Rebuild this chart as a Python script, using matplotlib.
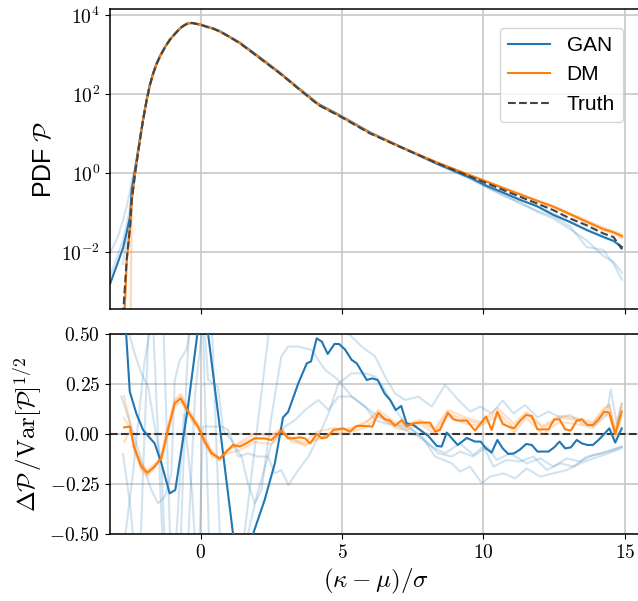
import numpy as np
import matplotlib
matplotlib.use('Agg')
import matplotlib.pyplot as plt
from matplotlib.ticker import FixedLocator, FixedFormatter, NullLocator

nan = np.nan

# ---- top panel: log10 of the PDF ----
x_top = [-3.2, -2.95, -2.75, -2.62, -2.5, -2.44, -2.32, -2.15, -2.03, -1.91, -1.8, -1.68,
         -1.56, -1.44, -1.25, -1.09, -0.9, -0.73, -0.6, -0.44, -0.3, -0.14, 0.0, 0.21,
         0.45, 0.68, 1.0, 1.39, 2.1, 2.8, 3.51, 4.16, 4.93, 5.99, 7.17,
         8.35, 9.53, 10.12, 10.7, 11.29, 11.89, 12.47, 13.06, 13.64, 14.24, 14.6, 14.9]
# shared body of the curve between x=-2.03 and x=1.0 (all models agree there)
truth_log = [nan, nan, -3.6, -2.2, -1.36, -0.68, 0.0, 0.84, 1.38, 1.85, 2.22, 2.52,
             2.76, 2.95, 3.2, 3.37, 3.53, 3.66, 3.73, 3.79, 3.795, 3.77, 3.75, 3.70,
             3.65, 3.58, 3.45, 3.28, 2.90, 2.52, 2.10, 1.72, 1.43, 1.0, 0.62,
             0.25, -0.09, -0.26, -0.43, -0.6, -0.77, -0.94, -1.15, -1.32, -1.53, -1.62, -1.93]
dm_log = [nan, nan, -4.5, -2.25, -1.38, -0.7, 0.0, 0.84, 1.38, 1.85, 2.22, 2.52,
          2.76, 2.95, 3.2, 3.37, 3.53, 3.66, 3.73, 3.79, 3.795, 3.77, 3.75, 3.70,
          3.65, 3.58, 3.45, 3.28, 2.90, 2.52, 2.11, 1.73, 1.44, 1.01, 0.63,
          0.27, -0.06, -0.22, -0.38, -0.54, -0.70, -0.85, -1.04, -1.23, -1.42, -1.5, -1.6]
gan_log = [-2.79, -2.3, -1.9, -1.5, -1.1, -0.4, 0.1, 0.86, 1.39, 1.86, 2.23, 2.53,
           2.77, 2.96, 3.2, 3.38, 3.53, 3.66, 3.73, 3.79, 3.795, 3.77, 3.75, 3.70,
           3.65, 3.58, 3.45, 3.29, 2.91, 2.53, 2.11, 1.74, 1.45, 1.02, 0.63,
           0.24, -0.12, -0.33, -0.5, -0.68, -0.84, -1.06, -1.24, -1.44, -1.62, -1.72, -1.87]
# individual realisations (faint)
gan_runs_log = [
    [-2.0, -1.65, -1.2, -0.85, -0.45, -0.2, 0.15, 0.9, 1.42, 1.88, 2.25, 2.55,
     2.78, 2.97, 3.21, 3.39, 3.54, 3.67, 3.74, 3.8, 3.8, 3.78, 3.76, 3.71,
     3.66, 3.59, 3.46, 3.3, 2.93, 2.55, 2.13, 1.76, 1.46, 1.03, 0.62,
     0.22, -0.15, -0.37, -0.55, -0.77, -0.95, -1.1, -1.35, -1.87, -1.95, -2.3, -2.7],
    [-2.6, -2.1, -1.7, -1.3, -0.9, -0.5, 0.1, 0.87, 1.4, 1.87, 2.24, 2.54,
     2.77, 2.96, 3.2, 3.38, 3.53, 3.66, 3.73, 3.79, 3.795, 3.77, 3.75, 3.71,
     3.66, 3.59, 3.46, 3.3, 2.92, 2.54, 2.12, 1.75, 1.46, 1.03, 0.63,
     0.23, -0.13, -0.35, -0.58, -0.74, -0.98, -1.15, -1.42, -1.7, -2.1, -2.25, -2.52],
    [nan, nan, -2.3, -1.7, -1.2, -0.55, 0.05, 0.85, 1.39, 1.86, 2.23, 2.53,
     2.77, 2.96, 3.2, 3.38, 3.53, 3.66, 3.73, 3.79, 3.795, 3.77, 3.75, 3.70,
     3.65, 3.58, 3.45, 3.29, 2.91, 2.53, 2.11, 1.74, 1.45, 1.02, 0.63,
     0.25, -0.1, -0.31, -0.48, -0.66, -0.83, -1.03, -1.22, -1.42, -1.6, -1.7, -1.9],
]
dm_runs_log = [
    [nan, nan, nan, nan, -5.0, -0.7, 0.0, 0.84, 1.38, 1.85, 2.22, 2.52,
     2.76, 2.95, 3.2, 3.37, 3.53, 3.66, 3.73, 3.79, 3.795, 3.77, 3.75, 3.70,
     3.65, 3.58, 3.45, 3.28, 2.90, 2.52, 2.11, 1.73, 1.44, 1.01, 0.63,
     0.27, -0.05, -0.21, -0.37, -0.53, -0.69, -0.84, -1.02, -1.2, -1.38, -1.47, -1.55],
    [nan, nan, -4.5, -2.2, -1.35, -0.68, 0.0, 0.84, 1.38, 1.85, 2.22, 2.52,
     2.76, 2.95, 3.2, 3.37, 3.53, 3.66, 3.73, 3.79, 3.795, 3.77, 3.75, 3.70,
     3.65, 3.58, 3.45, 3.28, 2.90, 2.52, 2.11, 1.73, 1.44, 1.01, 0.63,
     0.26, -0.07, -0.23, -0.39, -0.55, -0.71, -0.87, -1.06, -1.25, -1.45, -1.52, -1.65],
]

# ---- bottom panel: residuals DeltaP / Var[P]^1/2 ----
x_dm = [-2.71, -2.50, -2.36, -2.10, -1.89, -1.63, -1.39, -1.16, -0.92, -0.71, -0.45, -0.24,
        -0.10, 0.14, 0.38, 0.67, 0.91, 1.14, 1.38, 1.61, 1.91, 2.26, 2.50, 2.85, 3.09,
        3.22, 3.51, 3.69, 3.87, 4.10, 4.28, 4.46, 4.69, 5.04, 5.28, 5.52, 5.81, 6.07,
        6.28, 6.52, 6.70, 6.87, 7.11, 7.28, 7.52, 7.76, 8.11, 8.29, 8.46, 8.74, 8.94,
        9.11, 9.41, 9.70, 9.90, 10.09, 10.29, 10.49, 10.68, 10.88, 11.08, 11.30, 11.51,
        11.71, 11.91, 12.10, 12.30, 12.50, 12.69, 12.89, 13.09, 13.30, 13.48, 13.68,
        13.87, 14.07, 14.27, 14.45, 14.66, 14.89]
res_dm = [0.033, 0.037, -0.063, -0.163, -0.193, -0.163, -0.12, 0.02, 0.153, 0.178, 0.112, 0.067,
          0.037, -0.038, -0.097, -0.122, -0.088, -0.055, -0.063, -0.047, -0.022, -0.022, -0.03, 0.017, -0.022,
          -0.022, -0.017, -0.022, -0.047, 0.0, -0.022, -0.017, 0.02, 0.028, 0.012, 0.04, 0.04, 0.037,
          0.107, 0.073, 0.067, 0.04, 0.07, 0.037, 0.053, 0.057, 0.057, 0.012, 0.02, 0.107, 0.073,
          0.067, 0.067, 0.017, 0.053, 0.087, 0.02, 0.112, 0.05, 0.037, 0.028, 0.067, 0.095,
          0.09, 0.023, 0.023, 0.023, 0.073, 0.073, 0.023, 0.017, 0.067, 0.073, 0.045,
          0.045, 0.073, 0.112, 0.107, 0.0, 0.112]

x_dm_runs = [-2.71, -2.5, -2.36, -2.1, -1.89, -1.63, -1.39, -1.16, -0.92, -0.71, -0.45, -0.24,
             -0.1, 0.14, 0.38, 0.67, 0.91, 1.38, 1.91, 2.5, 2.85, 3.22, 3.69, 4.1, 4.69,
             5.28, 5.81, 6.28, 6.87, 7.28, 7.76, 8.29, 8.74, 9.41, 9.9, 10.49, 11.08, 11.51,
             12.1, 12.69, 13.3, 13.87, 14.27, 14.45, 14.66, 14.89]
res_dm_runs = [
    [0.19, 0.05, -0.08, -0.18, -0.21, -0.17, -0.1, 0.04, 0.17, 0.2, 0.13, 0.08,
     0.05, -0.02, -0.08, -0.13, -0.09, -0.04, 0.0, -0.01, 0.03, -0.04, -0.05, -0.03, 0.01,
     0.03, 0.05, 0.12, 0.06, 0.05, 0.07, 0.03, 0.12, 0.08, 0.06, 0.13, 0.05, 0.11,
     0.04, 0.09, 0.08, 0.06, 0.13, 0.14, 0.02, 0.15],
    [-0.04, 0.02, -0.05, -0.15, -0.18, -0.15, -0.13, 0.0, 0.14, 0.16, 0.1, 0.05,
     0.03, -0.05, -0.11, -0.13, -0.1, -0.08, -0.04, -0.05, 0.0, -0.02, -0.06, -0.02, 0.0,
     0.01, 0.03, 0.09, 0.03, 0.02, 0.05, 0.0, 0.09, 0.05, 0.04, 0.09, 0.01, 0.08,
     0.0, 0.06, 0.05, 0.03, 0.1, 0.09, -0.02, 0.09],
    [0.08, 0.03, -0.07, -0.17, -0.2, -0.16, -0.11, 0.03, 0.16, 0.19, 0.12, 0.06,
     0.04, -0.03, -0.09, -0.12, -0.08, -0.05, -0.02, -0.03, 0.02, -0.03, -0.04, 0.01, 0.03,
     0.02, 0.06, 0.1, 0.05, 0.04, 0.06, 0.02, 0.1, 0.07, 0.05, 0.11, 0.03, 0.1,
     0.03, 0.08, 0.07, 0.05, 0.12, 0.15, 0.01, 0.13],
]

x_gan = [-2.75, -2.51, -2.28, -2.04, -1.86, -1.63, -1.39, -1.10, -0.90, -0.45, -0.12, 0.05,
         0.26, 0.73, 1.14, 1.5, 1.85, 2.26, 2.62, 2.91, 3.09, 3.45, 3.75, 3.90, 4.10,
         4.28, 4.49, 4.73, 4.89, 5.10, 5.34, 5.52, 5.87, 6.07, 6.26, 6.50, 6.70, 6.90,
         7.09, 7.28, 7.52, 7.76, 8.05, 8.35, 8.52, 8.70, 8.88, 9.09, 9.41, 9.70, 9.90,
         10.09, 10.29, 10.49, 10.68, 10.88, 11.08, 11.30, 11.51, 11.71, 11.91, 12.10,
         12.30, 12.50, 12.69, 12.89, 13.09, 13.30, 13.48, 13.68, 13.87, 14.07, 14.27,
         14.45, 14.66, 14.89]
res_gan = [0.75, 0.212, 0.103, 0.02, -0.01, -0.047, -0.147, -0.297, -0.28, 0.137, 0.5, 0.75,
           0.5, -0.03, -0.497, -0.75, -0.5, -0.33, -0.147, 0.083, 0.11, 0.253, 0.353, 0.363, 0.478,
           0.462, 0.4, 0.45, 0.45, 0.423, 0.37, 0.353, 0.27, 0.278, 0.27, 0.203, 0.17, 0.12,
           0.14, 0.053, 0.045, 0.02, -0.01, -0.06, -0.063, 0.007, -0.022, -0.055, -0.02, -0.038, -0.038,
           -0.072, -0.093, -0.03, -0.072, -0.1, -0.097, -0.077, -0.05, -0.055, -0.088, -0.088,
           -0.088, -0.067, -0.038, -0.072, -0.067, -0.03, -0.047, -0.055, -0.055, -0.03, 0.0,
           0.028, -0.043, 0.028]

x_gan_run1 = [-2.75, -2.57, -2.34, -2.10, -1.86, -1.63, -1.39, -1.2, -0.8, -0.5, -0.2, 0.3,
              0.7, 1.2, 1.8, 2.4, 3.0, 3.8, 4.5, 5.1, 5.69, 6.17, 6.52, 6.87, 7.23, 7.7,
              8.17, 8.64, 9.11, 9.53, 9.88, 10.29, 10.68, 11.06, 11.47, 11.91, 12.3, 12.71,
              13.06, 13.48, 13.89, 14.36, 14.5, 14.71, 14.89]
res_gan_run1 = [0.7, 0.52, 0.403, 0.303, 0.237, 0.037, -0.147, -0.8, -0.9, 0.3, 1.0, 0.9,
                -0.6, -0.9, -0.2, 0.5, 0.75, 0.9, 0.8, 0.52, 0.437, 0.387, 0.287, 0.203, 0.17, 0.187,
                0.137, 0.245, 0.17, 0.112, 0.137, 0.103, 0.167, 0.103, 0.145, 0.083, 0.112, 0.083,
                0.095, 0.053, 0.037, 0.095, 0.223, 0.053, 0.153]
x_gan_run2 = [-2.81, -2.45, -2.10, -1.75, -1.51, -1.27, -1.04, -0.92, -0.74, -0.51, -0.27, 0.0,
              0.35, 0.9, 1.5, 2.0, 2.5, 2.98, 3.34, 3.69, 4.16, 4.52, 4.87, 5.34, 5.81, 6.17,
              6.52, 6.99, 7.46, 7.93, 8.41, 8.88, 9.17, 9.64, 10.12, 10.47, 10.94, 11.53, 12.0,
              12.47, 12.95, 13.42, 13.89, 14.36, 14.89]
res_gan_run2 = [0.187, 0.037, -0.13, -0.28, -0.347, -0.313, -0.197, 0.27, 0.37, 0.42, 0.6, 0.9,
                -0.8, -0.95, -0.6, -0.3, -0.05, 0.037, 0.07, 0.12, 0.17, 0.12, 0.187, 0.187, 0.137, 0.07,
                0.053, 0.045, 0.02, -0.03, -0.097, -0.113, -0.088, -0.113, -0.063, -0.13, -0.097, -0.147, -0.122,
                -0.163, -0.122, -0.138, -0.105, -0.088, -0.063]
x_gan_run3 = [-2.75, -2.4, -2.0, -1.7, -1.3, -0.9, -0.6, -0.3, -0.1, 0.08, 0.26, 0.73,
              0.97, 1.32, 1.67, 2.03, 2.38, 2.62, 2.85, 3.1, 3.45, 3.81, 4.16, 4.52, 4.87,
              5.34, 5.81, 6.17, 6.52, 6.87, 7.35, 7.82, 8.29, 8.88, 9.17, 9.53, 9.94, 10.23,
              10.71, 11.12, 11.53, 12.0, 12.47, 12.95, 13.42, 13.89, 14.36, 14.89]
res_gan_run3 = [-0.6, -0.2, 0.35, 0.6, -0.7, -0.6, 0.1, -0.3, -0.8, 0.037, 0.037, 0.037,
                0.02, -0.113, -0.097, -0.113, -0.113, -0.197, -0.18, -0.255, -0.18, -0.113, -0.013, 0.103, 0.253,
                0.303, 0.303, 0.287, 0.22, 0.12, 0.037, -0.013, -0.113, -0.147, -0.188, -0.163, -0.247, -0.213,
                -0.197, -0.222, -0.172, -0.213, -0.197, -0.18, -0.147, -0.122, -0.1, -0.072]
x_gan_run4 = [-2.75, -2.5, -2.2, -1.8, -1.4, -1.0, -0.5, -0.2, 0.1, 0.26, 0.61, 0.79,
              1.08, 1.44, 1.67, 1.91, 2.15, 2.5, 2.85, 3.09, 3.45, 3.92, 4.4, 4.87, 5.34,
              5.81, 6.28, 6.76, 7.23, 7.7, 8.17, 8.64, 9.17, 9.64, 10.0, 10.35, 10.82, 11.29,
              11.77, 12.24, 12.71, 13.18, 13.65, 14.12, 14.6, 14.89]
res_gan_run4 = [-0.1, -0.35, -0.8, 0.7, 0.9, -0.9, -0.7, 0.2, 0.6, 0.27, 0.237, 0.02,
                -0.03, -0.113, -0.247, -0.347, -0.28, 0.087, 0.387, 0.437, 0.437, 0.42, 0.32, 0.27, 0.187,
                0.137, 0.087, 0.053, 0.02, -0.013, -0.063, -0.097, -0.047, -0.105, -0.063, -0.163, -0.13, -0.138,
                -0.113, -0.18, -0.147, -0.163, -0.113, -0.1, -0.08, -0.063]

x_ticks = [0, 5, 10, 15]
y_ticks_top = [-2, 0, 2, 4]
y_ticks_bot = [-0.5, -0.25, 0.0, 0.25, 0.5]

plt.rcParams['font.family'] = ['Liberation Sans', 'DejaVu Sans']
plt.rcParams['mathtext.fontset'] = 'cm'
plt.rcParams['axes.linewidth'] = 1.1

c_gan = '#1f77b4'
c_dm = '#ff7f0e'
c_truth = '#444444'

fig = plt.figure(figsize=(6.38, 6.01), dpi=100)
ax1 = fig.add_axes([0.1724, 0.4859, 0.834, 0.4992])
ax2 = fig.add_axes([0.1724, 0.1115, 0.834, 0.3328])

# top panel
for run in gan_runs_log:
    ax1.plot(x_top, 10 ** np.array(run), color=c_gan, alpha=0.2, lw=1.5)
for run in dm_runs_log:
    ax1.plot(x_top, 10 ** np.array(run), color=c_dm, alpha=0.3, lw=1.5)
ax1.plot(x_top, 10 ** np.array(gan_log), color=c_gan, lw=1.5, label='GAN')
ax1.plot(x_top, 10 ** np.array(dm_log), color=c_dm, lw=1.5, label='DM')
ax1.plot(x_top, 10 ** np.array(truth_log), color=c_truth, lw=1.5, ls='--', label='Truth')
ax1.set_yscale('log')
ax1.set_ylim(10 ** -3.44, 10 ** 4.15)
ax1.set_xlim(-3.21, 15.61)
ax1.yaxis.set_major_locator(FixedLocator([10.0 ** p for p in y_ticks_top]))
ax1.yaxis.set_major_formatter(FixedFormatter([r'$10^{%d}$' % p for p in y_ticks_top]))
ax1.yaxis.set_minor_locator(NullLocator())
ax1.set_xticks(x_ticks)
ax1.tick_params(labelbottom=False, labelsize=14)
ax1.grid(True, color='#c8c8c8', lw=1.2)
ax1.set_ylabel(r'PDF $\mathcal{P}$', fontsize=18)
ax1.legend(loc='upper right', fontsize=15, borderaxespad=0.9)

# bottom panel
ax2.axhline(0, color='#333333', lw=1.5, ls='--', zorder=2)
for xs, ys in [(x_gan_run1, res_gan_run1), (x_gan_run2, res_gan_run2),
               (x_gan_run3, res_gan_run3), (x_gan_run4, res_gan_run4)]:
    ax2.plot(xs, ys, color=c_gan, alpha=0.2, lw=1.5)
for run in res_dm_runs:
    ax2.plot(x_dm_runs, run, color=c_dm, alpha=0.25, lw=1.5)
ax2.plot(x_gan, res_gan, color=c_gan, lw=1.5, zorder=3)
ax2.plot(x_dm, res_dm, color=c_dm, lw=1.5, zorder=3)
ax2.set_xlim(-3.21, 15.61)
ax2.set_ylim(-0.5, 0.5)
ax2.set_xticks(x_ticks)
ax2.set_xticklabels([r'$%d$' % t for t in x_ticks])
ax2.set_yticks(y_ticks_bot)
ax2.set_yticklabels([r'$%.2f$' % t for t in y_ticks_bot])
ax2.tick_params(labelsize=14)
ax2.grid(True, color='#c8c8c8', lw=1.2)
ax2.set_ylabel(r'$\Delta\mathcal{P}\,/\mathrm{Var}[\mathcal{P}]^{1/2}$', fontsize=18)
ax2.set_xlabel(r'$(\kappa-\mu)/\sigma$', fontsize=18)

fig.savefig('out.png', dpi=100)
